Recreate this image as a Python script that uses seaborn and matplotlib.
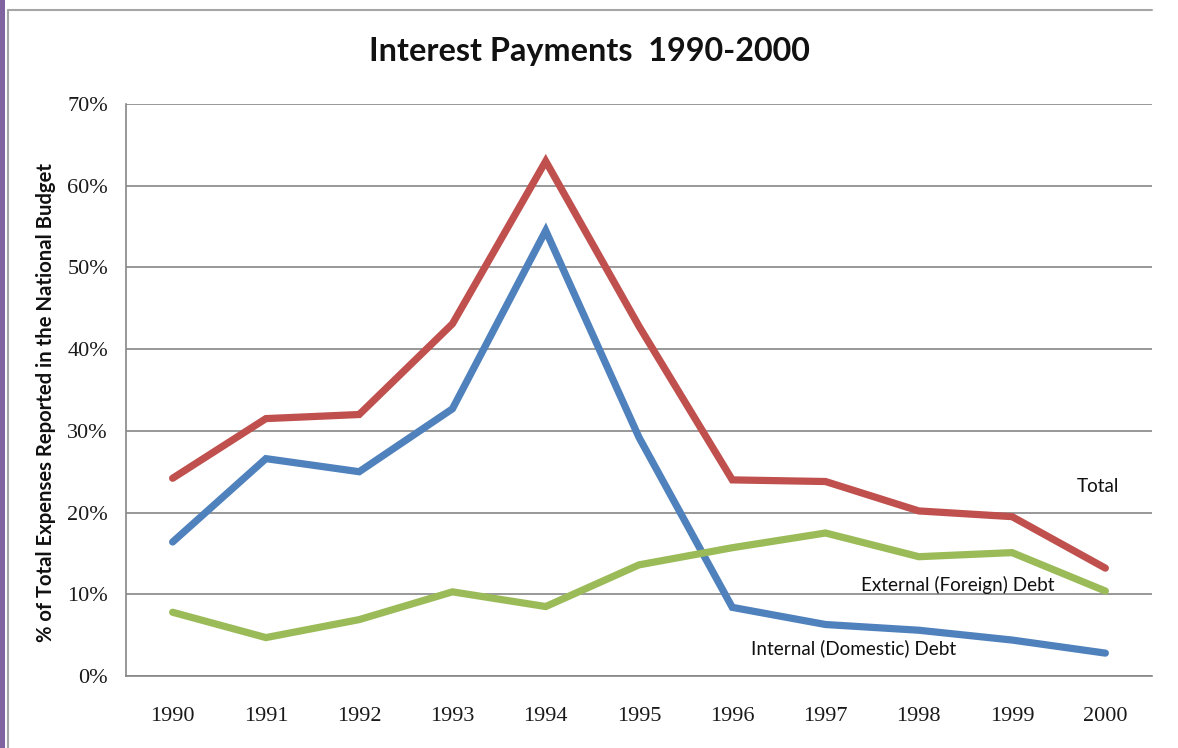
import matplotlib
matplotlib.use("Agg")
import matplotlib.pyplot as plt
from matplotlib.patches import Rectangle
from matplotlib.lines import Line2D
from matplotlib.ticker import FuncFormatter
import numpy as np
import pandas as pd
import seaborn as sns

# Interest payments as a share of total budget expenses (%)
years = ["1990", "1991", "1992", "1993", "1994", "1995",
         "1996", "1997", "1998", "1999", "2000"]
total = [24.2, 31.5, 32.0, 43.1, 63.0, 42.8, 24.0, 23.8, 20.2, 19.5, 13.2]
internal_debt = [16.4, 26.6, 25.0, 32.7, 54.5, 29.2, 8.4, 6.3, 5.6, 4.4, 2.8]
external_debt = [7.8, 4.7, 6.9, 10.3, 8.5, 13.6, 15.7, 17.5, 14.6, 15.1, 10.4]
series_names = ["Total", "Internal (Domestic) Debt", "External (Foreign) Debt"]
y_ticks = [0, 10, 20, 30, 40, 50, 60, 70]

df = pd.concat([
    pd.DataFrame({"pos": np.arange(len(years)), "value": vals, "series": name})
    for name, vals in zip(series_names, [total, internal_debt, external_debt])
])

sns.set_theme(style="white")
plt.rcParams["font.family"] = ["Lato", "DejaVu Sans"]

W, H = 1178, 748
fig = plt.figure(figsize=(W / 100, H / 100), dpi=100)
fig.patch.set_facecolor("white")

# slide decoration: purple edge stripe and grey chart frame
fig.patches.append(Rectangle((0, 0), 5 / W, 1, transform=fig.transFigure,
                             facecolor="#8064A2", edgecolor="none"))
fig.lines.append(Line2D([7.5 / W, 7.5 / W], [0, 1 - 9.5 / H], transform=fig.transFigure,
                        color="#A6A6A6", lw=1.5))
fig.lines.append(Line2D([7.5 / W, 1152 / W], [1 - 9.5 / H, 1 - 9.5 / H],
                        transform=fig.transFigure, color="#A6A6A6", lw=1.5))

ax = fig.add_axes([126 / W, 1 - 676 / H, (1152 - 126) / W, (676 - 104) / H])
palette = {"Total": "#C0504D", "Internal (Domestic) Debt": "#4F81BD",
           "External (Foreign) Debt": "#9BBB59"}
sns.lineplot(data=df, x="pos", y="value", hue="series", palette=palette,
             linewidth=5.2, legend=False, ax=ax, solid_capstyle="round",
             solid_joinstyle="miter")

ax.set_xlim(-0.5, len(years) - 0.5)
ax.set_ylim(0, 70)
ax.set_yticks(y_ticks)
ax.yaxis.set_major_formatter(FuncFormatter(lambda v, p: f"{v:.0f}%"))
ax.set_xticks(np.arange(len(years)))
ax.set_xticklabels(years)
ax.grid(axis="y", color="#868686", linewidth=1.2)
ax.set_axisbelow(True)
for side in ["top", "right"]:
    ax.spines[side].set_visible(False)
for side in ["left", "bottom"]:
    ax.spines[side].set_color("#868686")
    ax.spines[side].set_linewidth(1.2)
ax.tick_params(axis="both", length=0, labelsize=16, colors="#1a1a1a")
ax.tick_params(axis="y", pad=13)
ax.tick_params(axis="x", pad=22)
for lab in ax.get_xticklabels() + ax.get_yticklabels():
    lab.set_fontfamily(["Liberation Serif", "DejaVu Serif"])

ax.set_xlabel("")
ax.set_ylabel("% of Total Expenses Reported in the National Budget",
              fontsize=14.6, fontweight="bold", color="#111111")
ax.yaxis.label.set_va("center")
ax.yaxis.set_label_coords(-0.078, 0.478)

fig.text(589 / W, 1 - 52 / H, "Interest Payments  1990-2000", ha="center",
         va="center", fontsize=23.3, fontweight="bold", color="#111111")

# direct series labels
ax.text(9.92, 23.2, "Total", ha="center", va="center", fontsize=13.6, color="#111111")
ax.text(8.42, 11.2, "External (Foreign) Debt", ha="center", va="center",
        fontsize=13.6, color="#111111")
ax.text(7.3, 3.4, "Internal (Domestic) Debt", ha="center", va="center",
        fontsize=13.6, color="#111111")

fig.savefig("out.png", dpi=100, facecolor="white")
